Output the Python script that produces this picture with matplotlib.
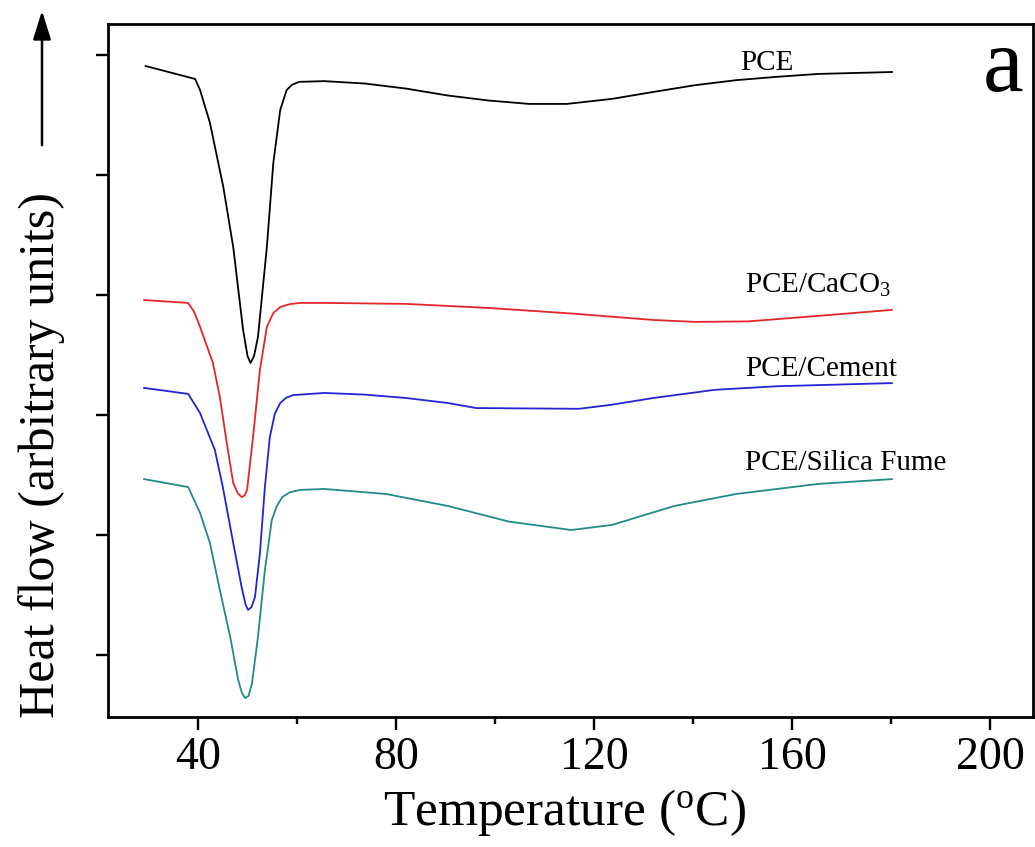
import numpy as np
import matplotlib.pyplot as plt
from matplotlib.ticker import MultipleLocator, NullFormatter

plt.rcParams['font.family'] = ['Liberation Serif', 'DejaVu Serif']
plt.rcParams['mathtext.fontset'] = 'custom'
plt.rcParams['mathtext.rm'] = 'Liberation Serif'
plt.rcParams['mathtext.it'] = 'Liberation Serif:italic'

# DSC curves (temperature in °C, heat flow in arbitrary units, curves offset)
t_pce = [29.4, 39.4, 40.4, 42.4, 45.1, 47.1, 49.1, 50.0, 50.6, 51.3, 52.1, 53.9, 55.2,
         56.6, 57.9, 59.0, 60.4, 65.5, 73.7, 82, 90.5, 98.8, 107, 114.5, 123.6, 132,
         140.4, 148.7, 157, 165.3, 180.2]
hf_pce = [2.954, 2.900, 2.854, 2.717, 2.450, 2.200, 1.854, 1.745, 1.717, 1.745, 1.825,
          2.200, 2.550, 2.771, 2.854, 2.876, 2.888, 2.891, 2.881, 2.860, 2.831, 2.810,
          2.796, 2.796, 2.817, 2.846, 2.874, 2.895, 2.909, 2.921, 2.929]

t_caco3 = [29.1, 38, 39.2, 40.4, 43, 44.4, 45.8, 47.1, 48.0, 48.8, 49.4, 49.9, 51.1,
           52.5, 53.9, 55.2, 56.6, 58.5, 60.6, 65.5, 82, 98.8, 115.4, 132, 140.4, 151.1,
           165.3, 180.2]
hf_caco3 = [1.979, 1.967, 1.930, 1.867, 1.717, 1.575, 1.383, 1.217, 1.175, 1.158, 1.165,
            1.188, 1.408, 1.688, 1.867, 1.925, 1.950, 1.962, 1.967, 1.967, 1.963, 1.946,
            1.923, 1.896, 1.888, 1.890, 1.913, 1.938]

t_cement = [29.1, 38, 40.4, 43.4, 45, 47.1, 48.8, 49.6, 50.1, 50.8, 51.5, 52.5, 53.5,
            54.5, 55.5, 56.6, 57.8, 59.2, 65.5, 73.7, 82, 90.5, 96.2, 117, 123.6, 132,
            144.4, 157, 180.2]
hf_cement = [1.613, 1.588, 1.508, 1.354, 1.200, 0.967, 0.783, 0.710, 0.688, 0.700, 0.742,
             0.925, 1.200, 1.408, 1.505, 1.550, 1.572, 1.583, 1.592, 1.585, 1.571, 1.550,
             1.529, 1.526, 1.543, 1.571, 1.605, 1.620, 1.633]

t_sf = [29.1, 38, 40.4, 42.4, 44.4, 46.5, 48.1, 48.9, 49.5, 50.2, 50.9, 52.1, 53.5,
        54.9, 55.9, 57, 58.5, 60.6, 65.5, 78, 90.5, 102.8, 115.4, 123.6, 136.2, 148.7,
        165.3, 180.2]
hf_sf = [1.233, 1.200, 1.092, 0.967, 0.771, 0.575, 0.396, 0.340, 0.321, 0.330, 0.383,
         0.575, 0.854, 1.063, 1.120, 1.158, 1.178, 1.188, 1.192, 1.171, 1.121, 1.056,
         1.021, 1.042, 1.121, 1.171, 1.213, 1.233]

labels = ['PCE', 'PCE/CaCO$_3$', 'PCE/Cement', 'PCE/Silica Fume']
label_y = [2.9375, 2.008, 1.6625, 1.271]
label_x = [149.5, 150.5, 150.5, 150.5]
colors = ['black', '#e3262b', '#2424d4', '#218b86']

fig = plt.figure(figsize=(10.35, 8.47), dpi=100)
ax = fig.add_axes([108/1035, 1-717/847, 925/1035, 693/847])

series = [(t_pce, hf_pce), (t_caco3, hf_caco3), (t_cement, hf_cement), (t_sf, hf_sf)]
for (t, hf), c in zip(series, colors):
    ax.plot(t, hf, color=c, lw=1.3, solid_joinstyle='round')

for lab, lx, ly in zip(labels, label_x, label_y):
    ax.text(lx, ly, lab, fontsize=21, va='baseline', ha='left')

ax.text(0.99, 0.935, 'a', transform=ax.transAxes, fontsize=66, ha='right', va='center')

ax.set_xlim(21.8, 208.7)
ax.set_ylim(0.242, 3.129)
ax.xaxis.set_major_locator(MultipleLocator(40))
ax.xaxis.set_minor_locator(MultipleLocator(20))
ax.yaxis.set_major_locator(MultipleLocator(0.5))
ax.yaxis.set_major_formatter(NullFormatter())
ax.tick_params(axis='both', which='major', direction='out', length=9, width=1.7,
               labelsize=33, pad=5)
ax.tick_params(axis='x', which='minor', direction='out', length=5, width=1.7)
for s in ax.spines.values():
    s.set_linewidth(2.0)

fig.text(565/1035, 1-812/847, 'Temperature ($^\\mathrm{o}$C)', fontsize=37,
         ha='center', va='center')
fig.text(42/1035, 1-455/847, 'Heat flow (arbitrary units)', fontsize=36,
         rotation=90, ha='center', va='center')
ax.annotate('', xy=(42/1035, 1-8/847), xytext=(42/1035, 1-148/847),
            xycoords='figure fraction', textcoords='figure fraction',
            arrowprops=dict(arrowstyle='-|>,head_length=0.8,head_width=0.25', lw=1.8,
                            color='black', mutation_scale=22))

fig.savefig('out.png', dpi=100)
